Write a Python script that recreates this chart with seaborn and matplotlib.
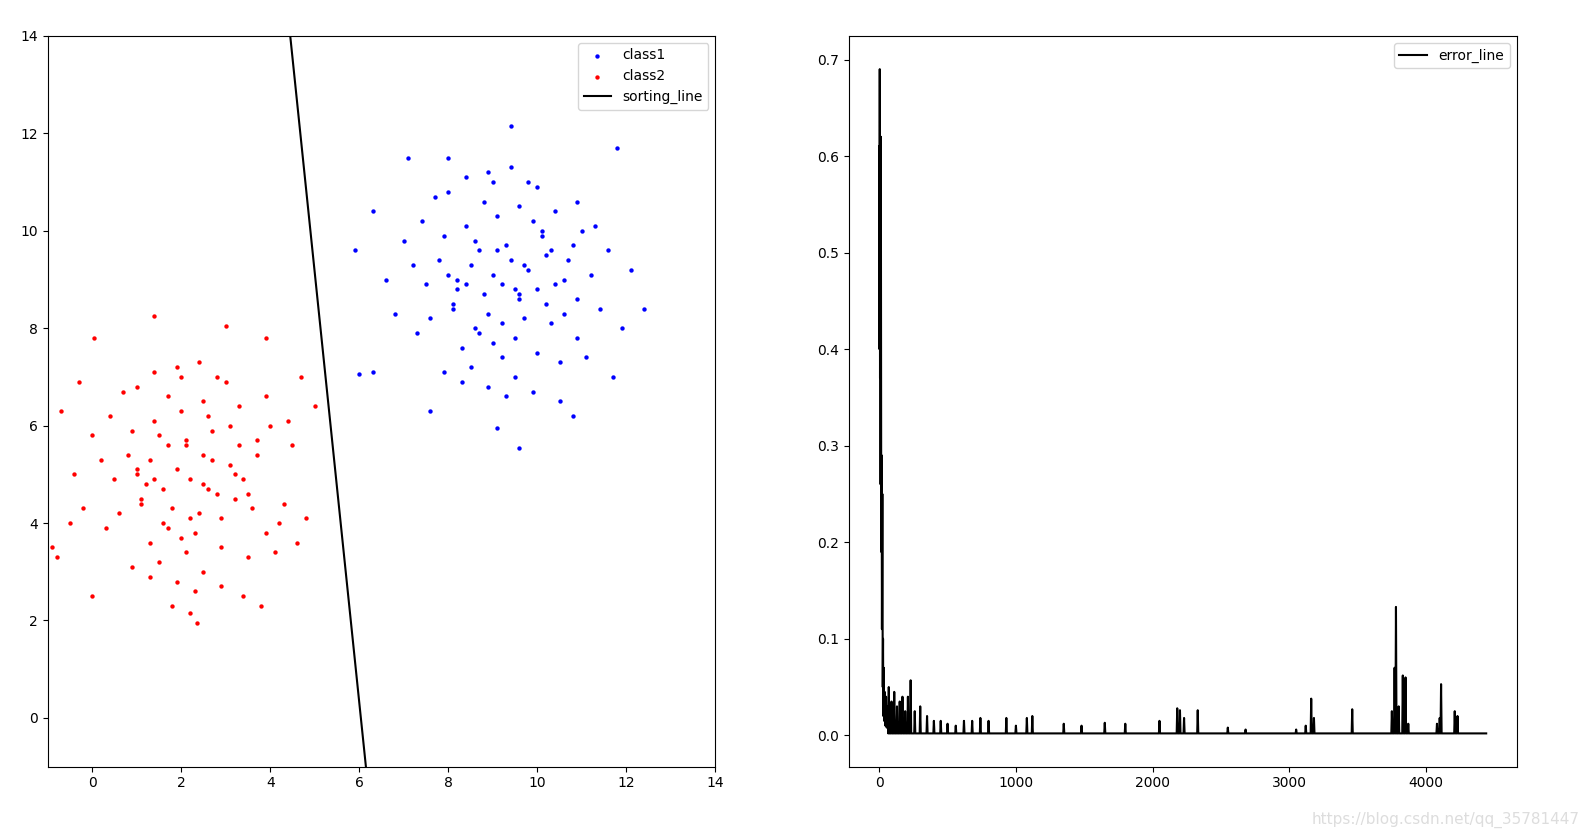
import matplotlib
matplotlib.use("Agg")
import matplotlib.pyplot as plt
import pandas as pd
import seaborn as sns

# class1 (blue) points (9.2, 9.0)
class1_x = [5.9, 6.0, 6.3, 7.1, 8.0, 9.4, 9.6, 9.1, 11.8, 12.4, 12.1, 11.7, 6.3, 10.8, 7.6,
            8.2, 8.5, 8.8, 9.0, 9.2, 9.4, 9.6, 9.8, 10.0, 10.2, 8.6, 8.9, 9.3, 9.7, 10.1,
            7.8, 8.1, 8.4, 8.7, 9.1, 9.5, 9.9, 10.3, 10.6, 10.9, 7.5, 7.9, 8.3, 8.8, 9.2,
            9.6, 10.0, 10.4, 10.8, 11.2, 7.2, 7.6, 8.0, 8.5, 9.0, 9.5, 10.0, 10.5, 11.0, 11.4,
            7.4, 7.9, 8.4, 8.9, 9.4, 9.9, 10.4, 10.9, 8.2, 8.7, 9.2, 9.7, 10.2, 10.7, 8.0,
            8.6, 9.1, 9.6, 10.1, 6.8, 7.0, 11.6, 11.9, 6.6, 8.3, 9.3, 10.5, 7.7, 10.9, 11.1,
            8.9, 9.8, 9.0, 8.4, 10.3, 9.5, 8.1, 10.6, 7.3, 11.3]
class1_y = [9.6, 7.05, 7.1, 11.5, 11.5, 12.15, 5.55, 5.95, 11.7, 8.4, 9.2, 7.0, 10.4, 6.2, 6.3,
            9.0, 9.3, 8.7, 9.1, 8.9, 9.4, 8.6, 9.2, 8.8, 9.5, 9.8, 8.3, 9.7, 8.2, 9.9,
            9.4, 8.5, 10.1, 7.9, 10.3, 7.8, 10.2, 8.1, 9.0, 8.6, 8.9, 9.9, 7.6, 10.6, 7.4,
            10.5, 7.5, 10.4, 9.7, 9.1, 9.3, 8.2, 10.8, 7.2, 11.0, 7.0, 10.9, 7.3, 10.0, 8.4,
            10.2, 7.1, 11.1, 6.8, 11.3, 6.7, 8.9, 7.8, 8.8, 9.6, 8.1, 9.3, 8.5, 9.4, 9.1,
            8.0, 9.6, 8.7, 10.0, 8.3, 9.8, 9.6, 8.0, 9.0, 6.9, 6.6, 6.5, 10.7, 10.6, 7.4,
            11.2, 11.0, 7.7, 8.9, 9.6, 8.8, 8.4, 8.3, 7.9, 10.1]

# class2 (red) points (2.0, 5.0)
class2_x = [-0.9, -0.8, -0.7, 0.0, 1.4, 2.35, 3.0, 3.8, 5.0, 4.7, 3.9, 0.05, 2.2, 1.8, -0.5,
            4.8, 4.6, -0.3, 1.0, 1.3, 1.6, 1.9, 2.2, 2.5, 2.8, 3.1, 1.5, 1.8, 2.1, 2.4,
            2.7, 0.8, 1.1, 1.4, 1.7, 2.0, 2.3, 2.6, 2.9, 3.2, 3.5, 0.5, 0.9, 1.3, 1.7,
            2.1, 2.5, 2.9, 3.3, 3.7, 0.2, 0.6, 1.0, 1.5, 2.0, 2.5, 3.0, 3.5, 4.0, 4.3,
            0.4, 0.9, 1.4, 1.9, 2.4, 2.9, 3.4, 3.9, 1.2, 1.7, 2.2, 2.7, 3.2, 3.7, 1.0,
            1.6, 2.1, 2.6, 3.1, -0.2, 0.0, 4.5, 4.2, -0.4, 1.3, 2.3, 3.4, 0.7, 3.9, 4.1,
            1.9, 2.8, 2.0, 1.4, 3.3, 2.5, 1.1, 3.6, 0.3, 4.4]
class2_y = [3.5, 3.3, 6.3, 2.5, 8.25, 1.95, 8.05, 2.3, 6.4, 7.0, 7.8, 7.8, 2.15, 2.3, 4.0,
            4.1, 3.6, 6.9, 5.0, 5.3, 4.7, 5.1, 4.9, 5.4, 4.6, 5.2, 5.8, 4.3, 5.7, 4.2,
            5.9, 5.4, 4.5, 6.1, 3.9, 6.3, 3.8, 6.2, 4.1, 5.0, 4.6, 4.9, 5.9, 3.6, 6.6,
            3.4, 6.5, 3.5, 6.4, 5.7, 5.3, 4.2, 6.8, 3.2, 7.0, 3.0, 6.9, 3.3, 6.0, 4.4,
            6.2, 3.1, 7.1, 2.8, 7.3, 2.7, 4.9, 3.8, 4.8, 5.6, 4.1, 5.3, 4.5, 5.4, 5.1,
            4.0, 5.6, 4.7, 6.0, 4.3, 5.8, 5.6, 4.0, 5.0, 2.9, 2.6, 2.5, 6.7, 6.6, 3.4,
            7.2, 7.0, 3.7, 4.9, 5.6, 4.8, 4.4, 4.3, 3.9, 6.1]

# separating line end points
line_x = [4.45, 6.15]
line_y = [14.0, -1.0]

# error curve: early oscillation, then baseline with spikes
err_head_x = [0, 2, 4, 6, 8, 10, 12, 15, 18, 20, 23, 26, 28, 30, 33, 36, 40, 45, 50, 55, 60]
err_head_y = [0.61, 0.40, 0.69, 0.37, 0.62, 0.26, 0.62, 0.19, 0.29, 0.11, 0.25, 0.05, 0.10,
              0.02, 0.07, 0.015, 0.045, 0.01, 0.04, 0.008, 0.03]
spike_x = [70, 90, 110, 130, 150, 170, 190, 210, 230, 260, 300, 350, 400, 450, 500, 560, 620,
           680, 740, 800, 930, 1000, 1080, 1120, 1350, 1480, 1650, 1800, 2050, 2180, 2200,
           2230, 2330, 2550, 2680, 3050, 3120, 3160, 3180, 3460, 3750, 3770, 3780, 3800,
           3830, 3850, 3870, 4080, 4100, 4110, 4210, 4230]
spike_y = [0.05, 0.035, 0.045, 0.03, 0.035, 0.04, 0.025, 0.04, 0.057, 0.025, 0.03, 0.02,
           0.015, 0.015, 0.012, 0.01, 0.015, 0.015, 0.018, 0.015, 0.018, 0.01, 0.018, 0.02,
           0.012, 0.01, 0.013, 0.012, 0.015, 0.028, 0.026, 0.018, 0.026, 0.008, 0.006, 0.006,
           0.01, 0.038, 0.018, 0.027, 0.025, 0.07, 0.133, 0.03, 0.062, 0.06, 0.012, 0.012,
           0.018, 0.053, 0.025, 0.02]
err_end_x = 4440

err_x = list(err_head_x)
err_y = list(err_head_y)
for sx, sy in zip(spike_x, spike_y):
    err_x += [sx - 4, sx, sx + 4]
    err_y += [0.002, sy, 0.002]
err_x.append(err_end_x)
err_y.append(0.002)

fig, (ax1, ax2) = plt.subplots(1, 2, figsize=(15.88, 8.36), dpi=100)
fig.subplots_adjust(left=0.03, right=0.955, bottom=0.083, top=0.957, wspace=0.2)

sns.scatterplot(x=class1_x, y=class1_y, ax=ax1, color="blue", s=10, linewidth=0,
                label="class1")
sns.scatterplot(x=class2_x, y=class2_y, ax=ax1, color="red", s=10, linewidth=0,
                label="class2")
sns.lineplot(x=line_x, y=line_y, ax=ax1, color="black", label="sorting_line",
             sort=False, estimator=None)
ax1.set_xlim(-1, 14)
ax1.set_ylim(-1, 14)
ax1.set_xticks(range(0, 15, 2))
ax1.set_yticks(range(0, 15, 2))
ax1.legend(loc="upper right")

err_df = pd.DataFrame({"x": err_x, "y": err_y})
sns.lineplot(data=err_df, x="x", y="y", ax=ax2, color="black", label="error_line",
             sort=False, estimator=None)
ax2.set_xlabel("")
ax2.set_ylabel("")
ax2.legend(loc="upper right")

fig.text(0.995, 0.01, "https://blog.csdn.net/qq_35781447", ha="right", va="bottom",
         color="#dddddd", fontsize=11)

fig.savefig("out.png", dpi=100)
